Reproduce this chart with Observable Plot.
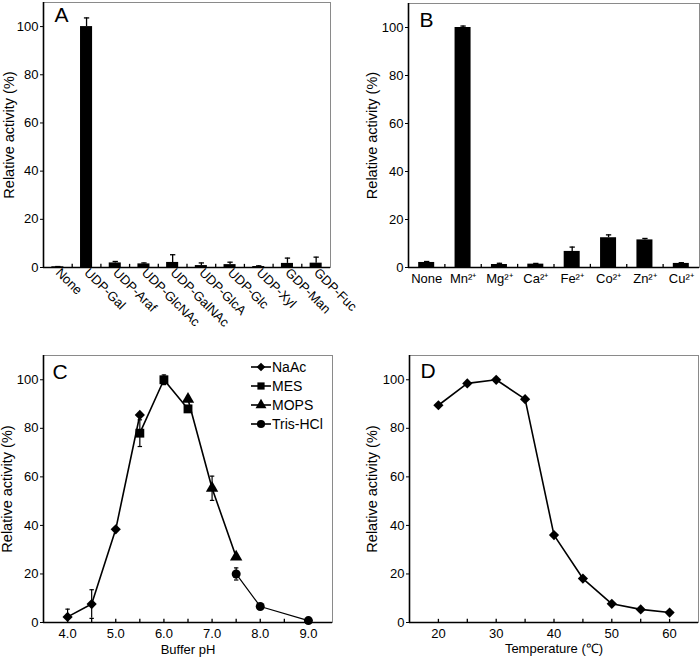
<!DOCTYPE html>
<html><head><meta charset="utf-8">
<script src="https://cdn.jsdelivr.net/npm/d3@7"></script>
<script src="https://cdn.jsdelivr.net/npm/@observablehq/plot@0.6"></script>
<style>
body{margin:0;background:#fff;}
#wrap{position:relative;width:700px;height:657px;font-family:"Liberation Sans",Arial,sans-serif;background:#fff;overflow:hidden;}
#wrap svg, #wrap svg text{font-family:"Liberation Sans",Arial,sans-serif;}
.panel{position:absolute;}
</style></head><body><div id="wrap"></div>
<script>
// ---- Panel A: donor substrate specificity ----
const substrates = ["None","UDP-Gal","UDP-Araf","UDP-GlcNAc","UDP-GalNAc","UDP-GlcA","UDP-Glc","UDP-Xyl","GDP-Man","GDP-Fuc"];
const substrateActivity = [0.3,100,1.9,1.5,2.1,0.8,1.2,0.4,1.7,1.8];
const substrateError = [0.1,3.6,0.6,0.4,3.2,1.1,1.0,0.3,2.2,2.5];
// ---- Panel B: metal ions ----
const metals = ["None","Mn²⁺","Mg²⁺","Ca²⁺","Fe²⁺","Co²⁺","Zn²⁺","Cu²⁺"];
const metalActivity = [2.1,100,1.25,1.4,6.7,12.4,11.5,1.7];
const metalError = [0.4,0.6,0.5,0.3,1.8,1.2,0.6,0.3];
// ---- Panel C: pH ----
const naacPH = [4.0,4.5,5.0,5.5], naacActivity = [2.3,7.6,38.4,85.5], naacError = [3.2,5.9,0,0];
const mesPH = [5.5,6.0,6.5], mesActivity = [78,100,88], mesError = [5.5,2,0];
const mopsPH = [6.5,7.0,7.5], mopsActivity = [92,55.3,27], mopsError = [0,5,0];
const trisPH = [7.5,8.0,9.0], trisActivity = [20,6.6,0.8], trisError = [2.5,0,0];
const phTicks = [4,5,6,7,8,9];
const phMinorTicks = [4,4.5,5,5.5,6,6.5,7,7.5,8,8.5,9];
// ---- Panel D: temperature ----
const temperature = [20,25,30,35,40,45,50,55,60];
const tempActivity = [89.5,98.5,100,92,36,18.1,7.7,5.4,4.1];
const tempTicks = [20,30,40,50,60];
const tempMinorTicks = [20,25,30,35,40,45,50,55,60];
const yTicks = [0,20,40,60,80,100];
const yLabel = "Relative activity (%)";

const FONT = '"Liberation Sans", Arial, Helvetica, sans-serif';
const capSymbol = {draw(ctx, size){ const r = Math.sqrt(size)/2; ctx.moveTo(-r,0); ctx.lineTo(r,0); }};
const wrap = document.getElementById("wrap");
function place(node, left, top){ node.classList.add("panel"); node.style.left = left+"px"; node.style.top = top+"px"; wrap.appendChild(node); }
const baseStyle = {fontFamily: FONT, fontSize: "13px", color: "black", background: "transparent", overflow: "visible"};

function barPanel({names, values, errors, letter, margins, rotate, labelDx, barHalf, letterDx, letterDy, tickPadding}){
  const data = names.map((n,i)=>({i, n, v: values[i], e: errors[i]}));
  const n = names.length;
  const bounds = d3.range(1, n).map(k => k - 0.5);
  return Plot.plot({
    width: 350, height: 330, ...margins,
    x: {type: "linear", domain: [-0.5, n - 0.5]},
    y: {domain: [0, 110]},
    style: baseStyle,
    marks: [
      Plot.frame({stroke: "#8a8a8a"}),
      Plot.ruleX(data, {x: "i", y1: "v", y2: d => d.v + d.e, strokeWidth: 1.3}),
      Plot.dot(data, {x: "i", y: d => d.v + d.e, symbol: capSymbol, r: 3, stroke: "black", fill: "none", strokeWidth: 1.3}),
      Plot.rectY(data, {x1: d => d.i - barHalf, x2: d => d.i + barHalf, y1: 0, y2: "v", fill: "black"}),
      Plot.ruleX(bounds, {y1: 0, y2: 1.3, strokeWidth: 1.3}),
      Plot.ruleY([0], {strokeWidth: 1.6}),
      Plot.ruleX([-0.5], {strokeWidth: 1.6}),
      Plot.axisY({ticks: yTicks, tickSize: 3, tickPadding: 2, fontSize: 13, label: null}),
      Plot.axisX({ticks: d3.range(n), tickFormat: i => names[i], tickSize: 0, tickPadding, tickRotate: rotate, fontSize: 13, label: null}),
      Plot.text([yLabel], {frameAnchor: "left", textAnchor: "middle", lineAnchor: "middle", rotate: -90, dx: labelDx, fontSize: 14.5}),
      Plot.text([letter], {frameAnchor: "top-left", textAnchor: "start", dx: letterDx, dy: letterDy, fontSize: 21, lineAnchor: "top"})
    ]
  });
}

place(barPanel({names: substrates, values: substrateActivity, errors: substrateError, letter: "A",
  margins: {marginLeft: 43, marginRight: 20, marginTop: 2, marginBottom: 63}, rotate: 45, labelDx: -34,
  barHalf: 0.21, letterDx: 11, letterDy: 5, tickPadding: 3}), 0, 0);

place(barPanel({names: metals, values: metalActivity, errors: metalError, letter: "B",
  margins: {marginLeft: 58, marginRight: 1, marginTop: 3, marginBottom: 63}, rotate: 0, labelDx: -36,
  barHalf: 0.22, letterDx: 11, letterDy: 9, tickPadding: 6}), 350, 0);

// Panel C
const toRows = (xs, ys, es, s) => xs.map((x,i)=>({s, x, y: ys[i], e: es[i]}));
const naac = toRows(naacPH, naacActivity, naacError, "NaAc");
const mes = toRows(mesPH, mesActivity, mesError, "MES");
const mops = toRows(mopsPH, mopsActivity, mopsError, "MOPS");
const tris = toRows(trisPH, trisActivity, trisError, "Tris-HCl");
const allC = [...naac, ...mes, ...mops, ...tris].filter(d => d.e > 0);

const plotC = Plot.plot({
  width: 350, height: 327, marginLeft: 43, marginRight: 18, marginTop: 25, marginBottom: 35,
  x: {domain: [3.5, 9.5]}, y: {domain: [0, 110]},
  style: baseStyle,
  marks: [
    Plot.frame({stroke: "#8a8a8a"}),
    Plot.ruleX(phMinorTicks, {y1: 0, y2: 1.3, strokeWidth: 1.3}),
    Plot.ruleX(allC, {x: "x", y1: d => Math.max(0, d.y - d.e), y2: d => d.y + d.e, strokeWidth: 1.2}),
    Plot.dot(allC, {x: "x", y: d => d.y + d.e, symbol: capSymbol, r: 2.5, stroke: "black", fill: "none", strokeWidth: 1.2}),
    Plot.dot(allC.filter(d => d.y - d.e > 0), {x: "x", y: d => d.y - d.e, symbol: capSymbol, r: 2.5, stroke: "black", fill: "none", strokeWidth: 1.2}),
    Plot.line(naac, {x: "x", y: "y", strokeWidth: 1.6}),
    Plot.line(mes, {x: "x", y: "y", strokeWidth: 1.6}),
    Plot.line(mops, {x: "x", y: "y", strokeWidth: 1.6}),
    Plot.line(tris, {x: "x", y: "y", strokeWidth: 1.2}),
    Plot.dot(naac, {x: "x", y: "y", symbol: "diamond2", r: 4.6, fill: "black"}),
    Plot.dot(mes, {x: "x", y: "y", symbol: "square", r: 5, fill: "black"}),
    Plot.dot(mops, {x: "x", y: "y", symbol: "triangle", r: 4.6, fill: "black"}),
    Plot.dot(tris, {x: "x", y: "y", symbol: "circle", r: 4.5, fill: "black"}),
    Plot.ruleY([0], {strokeWidth: 1.6}),
    Plot.ruleX([3.5], {strokeWidth: 1.6}),
    Plot.axisY({ticks: yTicks, tickSize: 3, tickPadding: 2, fontSize: 13, label: null}),
    Plot.axisX({ticks: phTicks, tickFormat: d3.format(".1f"), tickSize: 0, tickPadding: 6, fontSize: 13, label: null}),
    Plot.text([yLabel], {frameAnchor: "left", textAnchor: "middle", lineAnchor: "middle", rotate: -90, dx: -36, fontSize: 14.5}),
    Plot.text(["Buffer pH"], {frameAnchor: "bottom", textAnchor: "middle", dy: 27, lineAnchor: "middle", fontSize: 13}),
    Plot.text(["C"], {frameAnchor: "top-left", textAnchor: "start", dx: 9, dy: 9, fontSize: 21, lineAnchor: "top"})
  ]
});
place(plotC, 0, 330);

// Legend for panel C
const legendItems = [
  {label: "NaAc", sym: d3.symbolDiamond2, size: 48},
  {label: "MES", sym: d3.symbolSquare, size: 52},
  {label: "MOPS", sym: d3.symbolTriangle, size: 52},
  {label: "Tris-HCl", sym: d3.symbolCircle, size: 52}
];
const leg = d3.create("svg").attr("width", 100).attr("height", 85).style("overflow", "visible");
const gi = leg.selectAll("g").data(legendItems).join("g").attr("transform", (d,i) => `translate(0,${12 + i*19})`);
gi.append("line").attr("x1", 6).attr("x2", 26).attr("stroke", "black").attr("stroke-width", 1.6);
gi.append("path").attr("d", d => d3.symbol(d.sym, d.size)()).attr("transform", "translate(16,0)").attr("fill", "black");
gi.append("text").attr("x", 27).attr("dy", "0.35em").attr("font-size", 14).attr("font-family", FONT).text(d => d.label);
place(leg.node(), 245, 355);

// Panel D
const tempData = temperature.map((t,i)=>({x: t, y: tempActivity[i]}));
const plotD = Plot.plot({
  width: 350, height: 327, marginLeft: 59, marginRight: 2, marginTop: 25, marginBottom: 35,
  x: {domain: [15, 65]}, y: {domain: [0, 110]},
  style: baseStyle,
  marks: [
    Plot.frame({stroke: "#8a8a8a"}),
    Plot.ruleX(tempMinorTicks, {y1: 0, y2: 1.3, strokeWidth: 1.3}),
    Plot.line(tempData, {x: "x", y: "y", strokeWidth: 1.6}),
    Plot.dot(tempData, {x: "x", y: "y", symbol: "diamond2", r: 4.6, fill: "black"}),
    Plot.ruleY([0], {strokeWidth: 1.6}),
    Plot.ruleX([15], {strokeWidth: 1.6}),
    Plot.axisY({ticks: yTicks, tickSize: 3, tickPadding: 2, fontSize: 13, label: null}),
    Plot.axisX({ticks: tempTicks, tickSize: 0, tickPadding: 6, fontSize: 13, label: null}),
    Plot.text([yLabel], {frameAnchor: "left", textAnchor: "middle", lineAnchor: "middle", rotate: -90, dx: -37, fontSize: 14.5}),
    Plot.text(["Temperature (℃)"], {frameAnchor: "bottom", textAnchor: "middle", dy: 26, lineAnchor: "middle", fontSize: 13}),
    Plot.text(["D"], {frameAnchor: "top-left", textAnchor: "start", dx: 11, dy: 8, fontSize: 21, lineAnchor: "top"})
  ]
});
place(plotD, 350, 330);
</script></body></html>
